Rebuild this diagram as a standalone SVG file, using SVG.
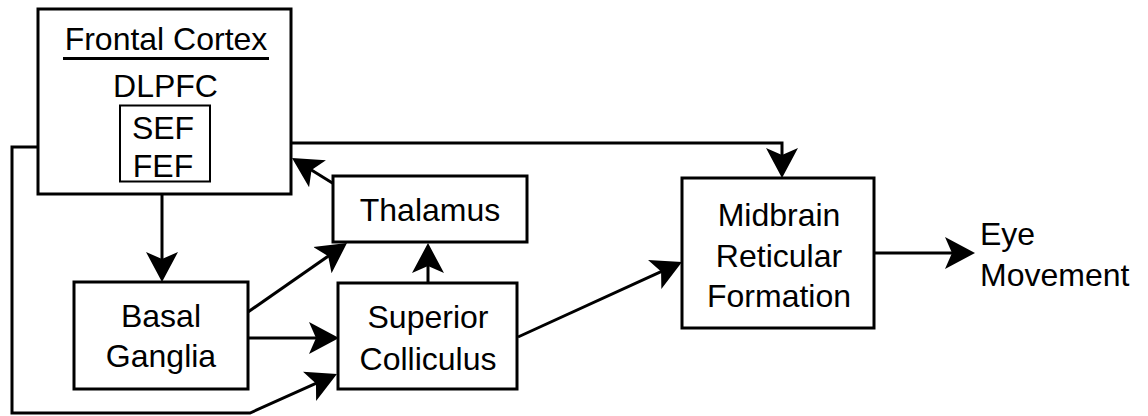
<svg xmlns="http://www.w3.org/2000/svg" width="1148" height="416" viewBox="0 0 1148 416">
<style>
.box{fill:#fff;stroke:#000;stroke-width:3}
.inner{fill:#fff;stroke:#000;stroke-width:2}
.t{font-family:"Liberation Sans",Arial,sans-serif;font-size:32px;fill:#000;text-anchor:middle}
.tl{font-family:"Liberation Sans",Arial,sans-serif;font-size:32px;fill:#000;text-anchor:start}
.c{fill:none;stroke:#000;stroke-width:3}
</style>
<defs>
<marker id="ah" viewBox="0 -17 30 34" markerWidth="30" markerHeight="34" refX="10" refY="0" orient="auto" markerUnits="userSpaceOnUse">
<path d="M0,-16 L30,0 L0,16 L7,0 Z" fill="#000"/>
</marker>
</defs>
<rect width="1148" height="416" fill="#fff"/>
<g id="connectors">
<path class="c" d="M162,194 V262" marker-end="url(#ah)"/>
<path class="c" d="M210,143 H782 V158" marker-end="url(#ah)"/>
<path class="c" d="M334,184 L309,168.5" marker-end="url(#ah)"/>
<path class="c" d="M248,312 L330.6,254.4" marker-end="url(#ah)"/>
<path class="c" d="M248,338 H319" marker-end="url(#ah)"/>
<path class="c" d="M38,147 H12 V413 H250 L318.7,382.2" marker-end="url(#ah)"/>
<path class="c" d="M428,283 V263" marker-end="url(#ah)"/>
<path class="c" d="M518,337 L663.8,270.3" marker-end="url(#ah)"/>
<path class="c" d="M874,253 H955" marker-end="url(#ah)"/>
</g>
<g id="frontal-cortex">
<rect class="box" x="38" y="9" width="253" height="185"/>
<text class="t" x="166" y="50">Frontal Cortex</text>
<line x1="63" y1="58.5" x2="269" y2="58.5" stroke="#000" stroke-width="3"/>
<text class="t" x="165.5" y="97">DLPFC</text>
</g>
<g id="sef-fef">
<rect class="inner" x="120" y="105.5" width="90" height="76"/>
<text class="t" x="163" y="138.5">SEF</text>
<text class="t" x="163" y="176.5">FEF</text>
</g>
<g id="thalamus">
<rect class="box" x="333" y="176" width="194" height="66"/>
<text class="t" x="430" y="221">Thalamus</text>
</g>
<g id="basal-ganglia">
<rect class="box" x="74" y="282" width="174" height="107"/>
<text class="t" x="161" y="327">Basal</text>
<text class="t" x="161" y="367">Ganglia</text>
</g>
<g id="superior-colliculus">
<rect class="box" x="338" y="283" width="179" height="106"/>
<text class="t" x="428" y="328">Superior</text>
<text class="t" x="428" y="370">Colliculus</text>
</g>
<g id="midbrain-reticular-formation">
<rect class="box" x="682" y="178" width="192" height="150"/>
<text class="t" x="779" y="226">Midbrain</text>
<text class="t" x="779" y="267">Reticular</text>
<text class="t" x="779" y="307">Formation</text>
</g>
<g id="eye-movement">
<text class="tl" x="980" y="245">Eye</text>
<text class="tl" x="980" y="286">Movement</text>
</g>
</svg>
